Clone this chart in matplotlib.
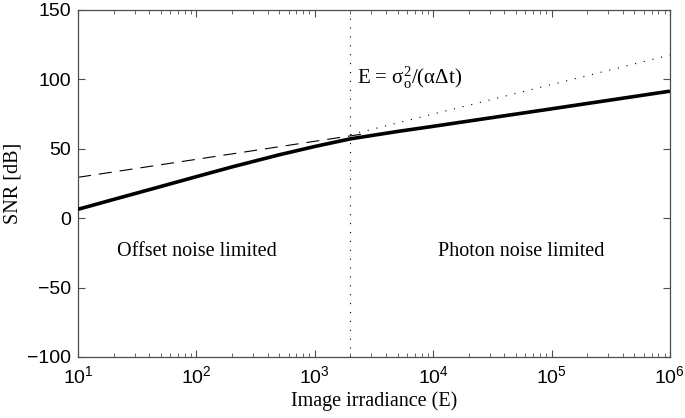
import matplotlib
matplotlib.use('Agg')
import matplotlib.pyplot as plt
from matplotlib.ticker import LogLocator, NullFormatter

plt.rcParams['font.family'] = ['Liberation Sans', 'DejaVu Sans']
plt.rcParams['mathtext.fontset'] = 'custom'
plt.rcParams['mathtext.rm'] = 'Liberation Sans'
plt.rcParams['mathtext.it'] = 'Liberation Sans:italic'

# values
snr_E = [10, 20, 50, 100, 200, 500, 1000, 2000, 5000, 1e4, 1e5, 1e6]
snr_db = [6.3, 13.4, 22.7, 29.8, 36.8, 45.5, 51.5, 57.0, 62.3, 66.0, 78.6, 91.3]

offset_E = [10, 2600]
offset_db = [29.3, 60.6]

photon_E = [2000, 1e6]
photon_db = [60.0, 117.3]

E_cross = 2000

xtick_vals = [1e1, 1e2, 1e3, 1e4, 1e5, 1e6]
xtick_labels = [r'$\mathregular{10^{%d}}$' % k for k in range(1, 7)]
ytick_vals = [-100, -50, 0, 50, 100, 150]

fig = plt.figure(figsize=(6.85, 4.18), dpi=100)
ax = fig.add_axes([0.114, 0.146, 0.864, 0.831])

ax.plot(snr_E, snr_db, color='black', lw=2.6, solid_capstyle='butt', zorder=3)
ax.plot(offset_E, offset_db, color='black', lw=0.8, linestyle=(0, (11.7, 7.2)))
ax.plot(photon_E, photon_db, color='black', lw=0.8, linestyle=(0, (1, 7)))
ax.axvline(E_cross, color='black', lw=0.8, linestyle=(0, (1, 7)))

ax.set_xscale('log')
ax.set_xlim(10, 1e6)
ax.set_ylim(-100, 150)
ax.set_xticks(xtick_vals)
ax.set_xticklabels(xtick_labels)
ax.xaxis.set_minor_locator(LogLocator(base=10, subs=range(2, 10)))
ax.xaxis.set_minor_formatter(NullFormatter())
ax.set_yticks(ytick_vals)

ax.tick_params(which='both', direction='in', top=True, right=True,
               colors='black', labelsize=14, pad=5)
ax.tick_params(axis='x', which='major', pad=6)
ax.tick_params(which='major', length=5, width=0.8, color='0.3')
ax.tick_params(which='minor', length=3, width=0.6, color='0.3')
for s in ax.spines.values():
    s.set_color('0.3')
    s.set_linewidth(0.9)

serif = ['Liberation Serif', 'DejaVu Serif']
ax.set_xlabel('Image irradiance (E)', family=serif, fontsize=14.5, labelpad=3)
ax.set_ylabel('SNR [dB]', family=serif, fontsize=14.5, labelpad=3)

ax.text(100, -24, 'Offset noise limited', family=serif, fontsize=14.5,
        ha='center', va='center')
ax.text(55000, -24, 'Photon noise limited', family=serif, fontsize=14.5,
        ha='center', va='center')
ax.text(2250, 101, r'E = σ$\mathregular{_o^2}$/(αΔt)', family=serif,
        math_fontfamily='stix', fontsize=15, ha='left', va='center')

fig.savefig('out.png', dpi=100)
